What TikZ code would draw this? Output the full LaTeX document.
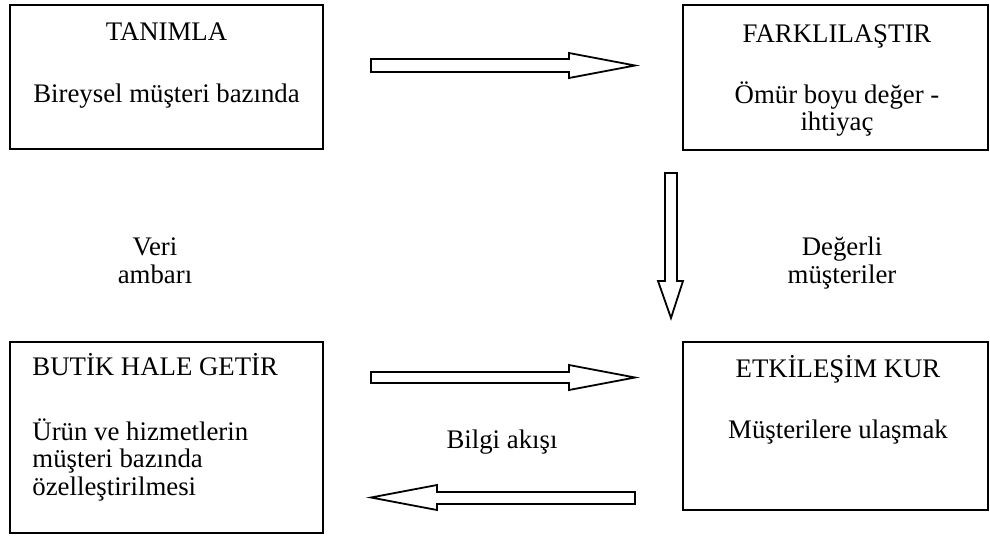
\documentclass[tikz,border=0pt]{standalone}
\usepackage{fontspec}
\setmainfont{Liberation Serif}
\begin{document}
\begin{tikzpicture}[x=0.5pt,y=-0.5pt,
  box/.style={draw, line width=1pt, inner sep=0pt},
  txt/.style={anchor=base, inner sep=0pt, font=\fontsize{13.4}{15.4}\selectfont},
  ltxt/.style={txt, anchor=base west},
  blockarrow/.style={draw, line width=0.9pt, fill=white, line join=miter}]
\useasboundingbox (0,0) rectangle (990,536);
% boxes
\node[box, minimum width=156.5pt, minimum height=72pt] (b1) at (166.5,77) {};
\node[box, minimum width=152.5pt, minimum height=72.5pt] (b2) at (835.5,77.5) {};
\node[box, minimum width=156.5pt, minimum height=95.5pt] (b3) at (166.5,437.5) {};
\node[box, minimum width=152.5pt, minimum height=84pt] (b4) at (835.5,426) {};
% box texts
\node[txt] (t1a) at (166.5,40) {TANIMLA};
\node[txt] (t1b) at (166.5,102) {Bireysel müşteri bazında};
\node[txt] (t2a) at (837,42) {FARKLILAŞTIR};
\node[txt] (t2b) at (837,103) {Ömür boyu değer -};
\node[txt] (t2c) at (837,130.5) {ihtiyaç};
\node[ltxt] (t3a) at (32,375) {BUTİK HALE GETİR};
\node[ltxt] (t3b) at (32,440) {Ürün ve hizmetlerin};
\node[ltxt] (t3c) at (32,467.5) {müşteri bazında};
\node[ltxt] (t3d) at (32,495) {özelleştirilmesi};
\node[txt] (t4a) at (838,377) {ETKİLEŞİM KUR};
\node[txt] (t4b) at (838,438) {Müşterilere ulaşmak};
% side labels
\node[txt] (l1a) at (155,255) {Veri};
\node[txt] (l1b) at (155,283) {ambarı};
\node[txt] (l2a) at (842,255) {Değerli};
\node[txt] (l2b) at (842,283) {müşteriler};
\node[txt] (l3) at (502,448) {Bilgi akışı};
% block arrows
\draw[blockarrow] (371,59) -- (569,59) -- (569,53) -- (635,65.5) -- (569,78) -- (569,72) -- (371,72) -- cycle;
\draw[blockarrow] (665,173) -- (677,173) -- (677,281) -- (683,281) -- (671,318) -- (658,281) -- (665,281) -- cycle;
\draw[blockarrow] (371,372) -- (569,372) -- (569,365) -- (635,377.5) -- (569,390) -- (569,383) -- (371,383) -- cycle;
\draw[blockarrow] (635,492) -- (437,492) -- (437,485) -- (371,497.5) -- (437,510) -- (437,504) -- (635,504) -- cycle;
\end{tikzpicture}
\end{document}
